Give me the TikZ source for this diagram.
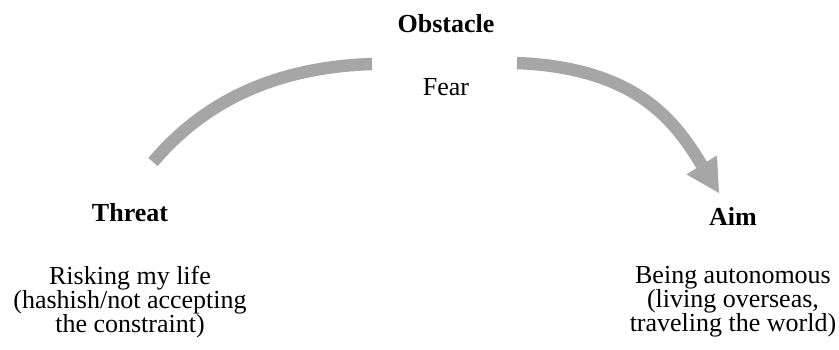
\documentclass[tikz,border=0pt]{standalone}
\usepackage{fontspec}
\setmainfont{Liberation Serif}
\usetikzlibrary{arrows.meta,positioning}
\definecolor{ink}{HTML}{000000}
\definecolor{band}{HTML}{A6A6A6}

\begin{document}
\begin{tikzpicture}[
  x=0.5pt, y=0.5pt,
  node distance=22pt,
  head/.style={
    inner sep=0pt, text=ink,
    font=\fontsize{13}{12}\selectfont\bfseries
  },
  note/.style={
    inner sep=0pt, align=center, text=ink,
    font=\fontsize{13}{12}\selectfont
  },
  curve/.style={draw=band, line width=6.2pt},
  arrow/.style={curve, -{Triangle[length=16.5pt,width=18pt,line width=0pt]}}
]
\useasboundingbox (0,0) rectangle (839,349);

\node[head, anchor=base] (obstacle) at (446,316) {Obstacle};
\node[note, below=of obstacle] (fear) {Fear};

\node[head, anchor=base] (threat) at (130,128) {Threat};
\node[note, below=of threat] (threatText) {Risking my life\\
  (hashish/not accepting\\
  the constraint)};

\node[head, anchor=base] (aim) at (733,124) {Aim};
\node[note, below=20pt of aim] (aimText) {Being autonomous\\
  (living overseas,\\
  traveling the world)};

\coordinate (threatEnd) at (153,187);
\coordinate (obstacleL) at (372,285);
\coordinate (obstacleR) at (517,286);
\coordinate (aimEnd) at (719,156);

\draw[curve] (threatEnd) .. controls +(55,65) and +(-90,-3) .. (obstacleL);
\draw[arrow] (obstacleR) .. controls +(123,-5) and +(-42,68) .. (aimEnd);

\end{tikzpicture}
\end{document}
